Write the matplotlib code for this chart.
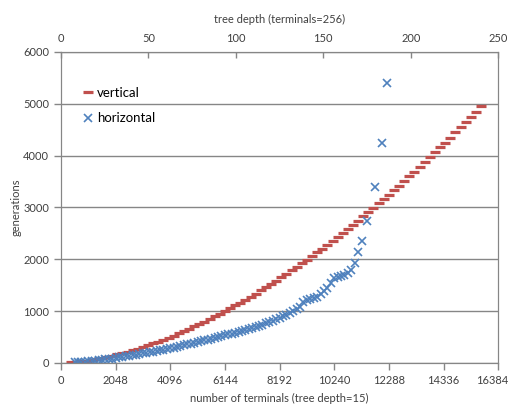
import matplotlib.pyplot as plt
from matplotlib.transforms import ScaledTranslation

# datos (terminales, generaciones)
vert_x = [384, 576, 768, 960, 1152, 1344, 1536, 1728, 1920, 2112, 2304, 2496, 2688, 2880,
          3072, 3264, 3456, 3648, 3840, 4032, 4224, 4416, 4608, 4800, 4992, 5184, 5376,
          5568, 5760, 5952, 6144, 6336, 6528, 6720, 6912, 7104, 7296, 7488, 7680, 7872,
          8064, 8256, 8448, 8640, 8832, 9024, 9216, 9408, 9600, 9792, 9984, 10176, 10368,
          10560, 10752, 10944, 11136, 11328, 11520, 11712, 11904, 12096, 12288, 12480,
          12672, 12864, 13056, 13248, 13440, 13632, 13824, 14016, 14208, 14400, 14592,
          14784, 14976, 15168, 15360, 15552, 15744]
vert_y = [9, 18, 29, 43, 58, 75, 95, 116, 138, 163, 189, 216, 245, 276, 307, 341, 376,
          412, 449, 488, 528, 570, 613, 657, 702, 748, 796, 845, 895, 947, 999, 1053,
          1108, 1163, 1221, 1279, 1338, 1398, 1460, 1523, 1586, 1651, 1717, 1784, 1851,
          1920, 1990, 2061, 2133, 2206, 2280, 2356, 2432, 2509, 2587, 2666, 2746, 2827,
          2908, 2992, 3075, 3160, 3246, 3333, 3421, 3509, 3598, 3689, 3780, 3873, 3966,
          4060, 4155, 4251, 4347, 4445, 4544, 4643, 4743, 4844, 4947]

horiz_x = [512, 640, 768, 896, 1024, 1152, 1280, 1408, 1536, 1664, 1792, 1920, 2048,
           2176, 2304, 2432, 2560, 2688, 2816, 2944, 3072, 3200, 3328, 3456, 3584, 3712,
           3840, 3968, 4096, 4224, 4352, 4480, 4608, 4736, 4864, 4992, 5120, 5248, 5376,
           5504, 5632, 5760, 5888, 6016, 6144, 6272, 6400, 6528, 6656, 6784, 6912, 7040,
           7168, 7296, 7424, 7552, 7680, 7808, 7936, 8064, 8192, 8320, 8448, 8576, 8704,
           8832, 8960, 9088, 9216, 9344, 9472, 9600, 9728, 9856, 9984, 10112, 10240,
           10368, 10496, 10624, 10752, 10880, 11008, 11136, 11264, 11456, 11776, 12032,
           12224]
horiz_y = [8, 13, 19, 25, 31, 38, 45, 52, 60, 68, 76, 84, 93, 104, 115, 126, 137, 149,
           160, 171, 182, 194, 206, 218, 231, 244, 257, 270, 283, 296, 310, 324, 340, 355,
           371, 387, 403, 419, 435, 451, 468, 485, 502, 518, 534, 550, 566, 583, 600, 617,
           634, 651, 670, 690, 711, 732, 760, 785, 810, 850, 875, 900, 930, 965, 1000,
           1035, 1080, 1180, 1220, 1235, 1245, 1280, 1320, 1380, 1450, 1540, 1630, 1660,
           1680, 1700, 1740, 1800, 1930, 2140, 2355, 2730, 3400, 4250, 5390]

depth_ticks = [0, 50, 100, 150, 200, 250]
term_ticks = [0, 2048, 4096, 6144, 8192, 10240, 12288, 14336, 16384]

plt.rcParams['font.family'] = ['Lato', 'DejaVu Sans']
gris = '#868686'
texto = '#404040'
fs = 8

fig = plt.figure(figsize=(5.12, 4.05), dpi=100)
ax = fig.add_axes([0.119, 0.104, 0.854, 0.768])

ax.plot(vert_x, vert_y, linestyle='none', marker='_', markersize=6.5, markeredgewidth=2.3,
        color='#C0504D', label='vertical')
ax.plot(horiz_x, horiz_y, linestyle='none', marker='x', markersize=5.5, markeredgewidth=1.2,
        color='#4F81BD', label='horizontal')

ax.set_xlim(0, 16384)
ax.set_ylim(0, 6000)
ax.set_xticks(term_ticks)
ax.set_yticks(range(0, 6001, 1000))
ax.yaxis.grid(True, color=gris, linewidth=1)
ax.set_axisbelow(True)
for s in ax.spines.values():
    s.set_color(gris)
ax.tick_params(axis='both', colors=gris, labelcolor=texto, labelsize=fs, length=5, width=1)
ax.set_xlabel('number of terminals (tree depth=15)', fontsize=fs, color=texto, labelpad=5)
ax.set_ylabel('generations', fontsize=fs, color=texto, labelpad=1)

# la ultima etiqueta se corre un poco para que no se corte
ult = ax.get_xticklabels()[-1]
ult.set_transform(ult.get_transform() + ScaledTranslation(-4 / 72, 0, fig.dpi_scale_trans))

# eje de arriba: profundidad del arbol
ax2 = ax.twiny()
ax2.set_xlim(0, 250)
ax2.set_xticks(depth_ticks)
ax2.tick_params(axis='x', direction='in', colors=gris, labelcolor=texto, labelsize=fs,
                length=4, width=1, pad=6)
for s in ax2.spines.values():
    s.set_color(gris)
ax2.set_xlabel('tree depth (terminals=256)', fontsize=fs, color=texto, labelpad=7)

ax.legend(loc='upper left', bbox_to_anchor=(0.025, 0.925), frameon=False, fontsize=9.5,
          handlelength=0.6, handletextpad=0.4, labelspacing=1.0, labelcolor='black')

fig.savefig('out.png', dpi=100)
